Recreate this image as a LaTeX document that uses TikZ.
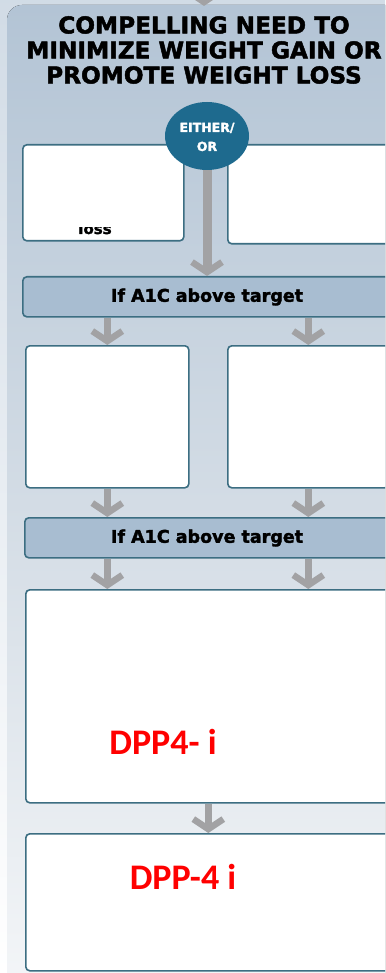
\documentclass[tikz,border=0pt]{standalone}
\usepackage{fontspec}
\setmainfont{DejaVu Sans}
\newfontfamily\heavy{DejaVu Sans}[FakeBold=2]
\newfontfamily\calib{Carlito}
\usetikzlibrary{arrows.meta,shapes.geometric}
\definecolor{bgtop}{HTML}{B3C4D5}
\definecolor{bgmid}{HTML}{D3DCE5}
\definecolor{bgbot}{HTML}{F4F6F8}
\definecolor{bord}{HTML}{3C6E82}
\definecolor{bandc}{HTML}{A8BDD1}
\definecolor{circc}{HTML}{1E6A8E}
\definecolor{arrg}{HTML}{A2A2A4}
\begin{document}
\begin{tikzpicture}[x=1pt,y=-1pt,
  box/.style={draw=bord, line width=1.6pt, fill=white, rounded corners=4pt, anchor=north west, inner sep=0pt},
  band/.style={draw=bord, line width=1.6pt, fill=bandc, rounded corners=4pt, anchor=north west, inner sep=0pt},
  bandtxt/.style={font=\heavy\bfseries\fontsize{17.5}{19}\selectfont, text=black, inner sep=0pt},
  arr/.style={draw=arrg, line width=7pt, -{Straight Barb[length=10pt,width=30pt,line width=6.5pt]}},
  redtxt/.style={text=red, font=\calib\fontsize{36}{40}\selectfont\bfseries, inner sep=0pt},
]
\useasboundingbox (0,0) rectangle (385,973);
\clip (0,0) rectangle (385,973);
% background
\fill[top color=bgtop!60!white, bottom color=white] (0,0) rectangle (385,973);
\fill[rounded corners=15pt, top color=bgtop, bottom color=bgbot, middle color=bgmid] (7,5) rectangle (420,1000);
% top stub arrow
\coordinate (t0) at (204,-20);
\coordinate (t1) at (204,6);
\draw[arr] (t0) -- (t1);
% title
\node[align=center, font=\heavy\bfseries\fontsize{23.2}{25}\selectfont, inner sep=0pt] (title) at (204,50)
  {COMPELLING NEED TO\\MINIMIZE WEIGHT GAIN OR\\PROMOTE WEIGHT LOSS};
% row 1
\node[box, minimum width=161pt, minimum height=96pt] (L1) at (22,144) {};
\node[box, minimum width=163pt, minimum height=99pt] (R1) at (227,144) {};
\begin{scope}
\clip (60,228) rectangle (130,240);
\node[font=\heavy\bfseries\fontsize{15}{15}\selectfont, inner sep=0pt, anchor=base] (loss) at (95,234) {loss};
\end{scope}
% band 1
\node[band, minimum width=368pt, minimum height=40pt] (B1) at (22,276) {};
\node[bandtxt] (B1t) at (207,297) {If A1C above target};
% circle
\node[ellipse, fill=circc, minimum width=84pt, minimum height=68pt, inner sep=0pt, draw=none] (circ) at (207,136) {};
\node[text=white, font=\heavy\bfseries\fontsize{12.5}{19}\selectfont, align=center] (eo) at (207,137) {EITHER/\\OR};
% main arrow
\draw[arr, line width=9pt] (circ.south) -- (B1.north -| circ.south);
% row 2
\node[box, minimum width=163pt, minimum height=142pt] (L2) at (25,345) {};
\node[box, minimum width=161pt, minimum height=142pt] (R2) at (227,345) {};
\draw[arr] (B1.south -| L2.north) -- (L2.north);
\draw[arr] (B1.south -| R2.north) -- (R2.north);
% band 2
\node[band, minimum width=366pt, minimum height=40pt] (B2) at (24,517) {};
\node[bandtxt] (B2t) at (207,538) {If A1C above target};
\draw[arr] (L2.south) -- (B2.north -| L2.south);
\draw[arr] (R2.south) -- (B2.north -| R2.south);
% big box
\node[box, minimum width=365pt, minimum height=213pt] (big) at (25,589) {};
\draw[arr] (B2.south -| L2.south) -- (big.north -| L2.south);
\draw[arr] (B2.south -| R2.south) -- (big.north -| R2.south);
\node[redtxt] (dpp1) at (163,742) {DPP4- i};
% bottom box
\node[box, minimum width=365pt, minimum height=137pt] (bot) at (25,833) {};
\draw[arr] (big.south) -- (bot.north);
\node[redtxt] (dpp2) at (183,877) {DPP-4 i};
\end{tikzpicture}
\end{document}
